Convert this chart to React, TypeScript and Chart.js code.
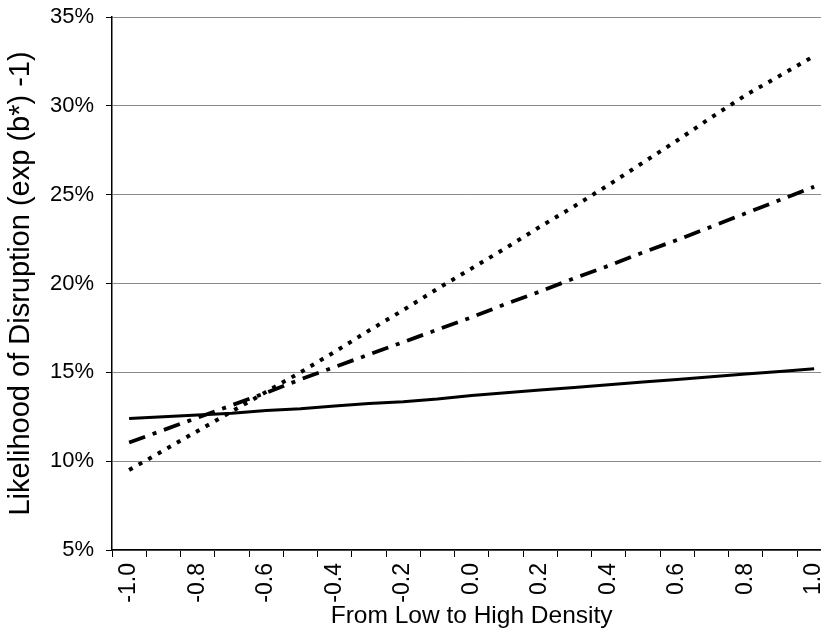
import React, { useEffect, useRef } from "react";
import { Chart, registerables } from "chart.js";

Chart.register(...registerables);

const categories = [
  "-1.0", "-0.9", "-0.8", "-0.7", "-0.6", "-0.5", "-0.4", "-0.3", "-0.2", "-0.1", "0.0",
  "0.1", "0.2", "0.3", "0.4", "0.5", "0.6", "0.7", "0.8", "0.9", "1.0",
];
const labeledTicks = ["-1.0", "-0.8", "-0.6", "-0.4", "-0.2", "0.0", "0.2", "0.4", "0.6", "0.8", "1.0"];

const solidSeries = [
  12.4, 12.5, 12.6, 12.7, 12.85, 12.95, 13.1, 13.25, 13.35, 13.5, 13.7,
  13.85, 14.0, 14.15, 14.3, 14.45, 14.6, 14.75, 14.9, 15.05, 15.2,
];
const dottedSeries = [
  9.5, 10.6, 11.7, 12.8, 13.9, 15.0, 16.15, 17.35, 18.5, 19.7, 20.85,
  22.0, 23.2, 24.35, 25.55, 26.8, 28.05, 29.35, 30.6, 31.7, 32.8,
];
const dashDotSeries = [
  11.05, 11.75, 12.45, 13.15, 13.85, 14.6, 15.3, 16.0, 16.7, 17.4, 18.1,
  18.85, 19.55, 20.3, 21.0, 21.75, 22.45, 23.2, 23.95, 24.7, 25.45,
];

const yMin = 5;
const yMax = 35;
const yStep = 5;

const xTitle = "From Low to High Density";
const yTitle = "Likelihood of Disruption (exp (b*) -1)";

const FONT = "'Liberation Sans', Arial, Helvetica, sans-serif";

export default function App() {
  const ref = useRef<HTMLCanvasElement | null>(null);

  useEffect(() => {
    if (!ref.current) return;
    const chart = new Chart(ref.current, {
      type: "line",
      data: {
        labels: categories,
        datasets: [
          {
            data: solidSeries,
            borderColor: "#000",
            borderWidth: 3,
            pointRadius: 0,
            tension: 0,
          },
          {
            data: dottedSeries,
            borderColor: "#000",
            borderWidth: 4,
            borderDash: [4, 7],
            borderCapStyle: "butt",
            pointRadius: 0,
            tension: 0,
          },
          {
            data: dashDotSeries,
            borderColor: "#000",
            borderWidth: 3.8,
            borderDash: [17, 8, 4, 8],
            borderCapStyle: "butt",
            pointRadius: 0,
            tension: 0,
          },
        ],
      },
      options: {
        animation: false,
        responsive: false,
        maintainAspectRatio: false,
        layout: { padding: { top: 17, right: 11, left: 0, bottom: 0 } },
        plugins: {
          legend: { display: false },
          tooltip: { enabled: false },
        },
        scales: {
          x: {
            type: "category",
            offset: true,
            grid: {
              display: true,
              offset: true,
              drawOnChartArea: false,
              drawTicks: true,
              tickLength: 7,
              tickColor: "#000",
              color: "#000",
            },
            border: { display: true, color: "#000", width: 1.5 },
            ticks: {
              autoSkip: false,
              minRotation: 90,
              maxRotation: 90,
              padding: 6,
              color: "#000",
              font: { family: FONT, size: 23 },
              callback: (_v: any, i: number) =>
                labeledTicks.includes(categories[i]) ? categories[i] : "",
            },
            title: {
              display: true,
              text: xTitle,
              color: "#000",
              font: { family: FONT, size: 24.5 },
              padding: { top: 0, bottom: 8 },
            },
            afterFit: (scale: any) => {
              scale.height = 89;
            },
          },
          y: {
            min: yMin,
            max: yMax,
            grid: {
              color: "#8a8a8a",
              lineWidth: 1,
              drawTicks: true,
              tickLength: 6,
              tickColor: "#000",
            },
            border: { display: true, color: "#000", width: 1.5 },
            ticks: {
              stepSize: yStep,
              padding: 12,
              color: "#000",
              font: { family: FONT, size: 22 },
              callback: (v: any) => `${v}%`,
            },
            title: {
              display: true,
              text: yTitle,
              color: "#000",
              font: { family: FONT, size: 29 },
              padding: { top: 4, bottom: 0 },
            },
            afterFit: (scale: any) => {
              scale.width = 112;
              scale.paddingTop = 0;
              scale.paddingBottom = 0;
            },
          },
        },
      },
    });
    return () => chart.destroy();
  }, []);

  return (
    <div
      style={{
        position: "absolute",
        left: 0,
        top: 0,
        width: 821,
        height: 639,
        overflow: "hidden",
        background: "#fff",
      }}
    >
      <canvas ref={ref} width={848} height={639} style={{ display: "block" }} />
    </div>
  );
}
